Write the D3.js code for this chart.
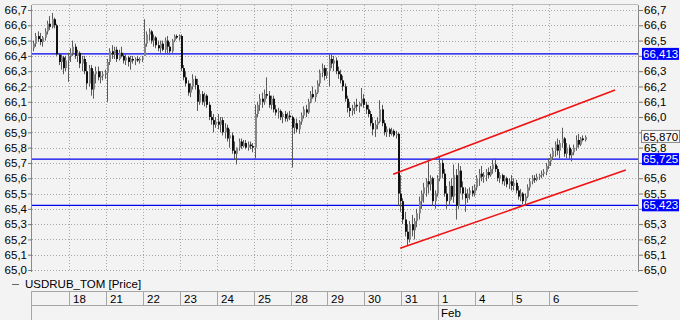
<!DOCTYPE html>
<html>
<head>
<meta charset="utf-8">
<script src="https://cdn.jsdelivr.net/npm/d3@7"></script>
<style>
  body { margin: 0; background: #f3f3f3; }
  svg { display: block; font-family: "Liberation Sans", Arial, sans-serif; }
</style>
</head>
<body>
<div id="chart"></div>
<script>
// USDRUB_TOM, hourly-ish candles, 16 per session (Jan 17 .. Feb 6)
const dayLabels = ["", "18", "21", "22", "23", "24", "25", "28", "29", "30", "31", "1", "4", "5", "6"];
const monthLabels = [{ day: 11, text: "Feb" }];
const barsPerDay = 16;

const opens = [
  66.45,66.48,66.53,66.51,66.49,66.52,66.56,66.61,66.59,66.64,66.60,66.41,66.36,66.39,66.32,66.37,
  66.40,66.42,66.46,66.40,66.42,66.35,66.38,66.30,66.22,66.32,66.18,66.28,66.30,66.26,66.27,66.28,
  66.29,66.36,66.43,66.41,66.44,66.38,66.42,66.40,66.37,66.39,66.36,66.38,66.37,66.38,66.37,66.38,
  66.40,66.48,66.54,66.56,66.50,66.52,66.47,66.45,66.48,66.44,66.50,66.46,66.43,66.50,66.53,66.52,
  66.53,66.32,66.26,66.22,66.16,66.20,66.25,66.21,66.10,66.15,66.10,66.14,66.08,66.00,65.98,65.95,
  65.97,65.95,65.98,65.90,65.93,65.86,65.88,65.78,65.76,65.80,65.84,65.81,65.83,65.80,65.82,65.81,
  65.80,66.02,66.08,66.12,66.10,66.15,66.14,66.08,66.12,66.05,66.03,66.04,66.00,66.02,65.99,66.01,
  66.00,65.93,65.96,65.92,65.97,66.01,66.05,66.03,66.10,66.15,66.13,66.16,66.22,66.29,66.32,66.27,
  66.30,66.38,66.35,66.37,66.30,66.28,66.24,66.20,66.12,66.06,66.04,66.06,66.08,66.07,66.09,66.12,
  66.08,66.05,66.02,65.96,65.92,65.95,65.97,66.05,65.96,65.90,65.92,65.89,65.91,65.88,65.89,65.50,
  65.45,65.33,65.25,65.20,65.30,65.26,65.32,65.37,65.45,65.50,65.54,65.58,65.56,65.60,65.45,65.50,
  65.60,65.70,65.63,65.50,65.45,65.55,65.48,65.62,65.42,65.65,65.54,65.50,65.47,65.50,65.52,65.50,
  65.54,65.60,65.63,65.61,65.62,65.64,65.62,65.66,65.69,65.66,65.60,65.62,65.58,65.60,65.56,65.58,
  65.55,65.57,65.52,65.48,65.50,65.45,65.48,65.54,65.58,65.60,65.59,65.61,65.62,65.63,65.64,65.68,
  65.71,65.74,65.78,65.82,65.78,65.83,65.86,65.76,65.80,65.75,65.77,65.80,65.85,65.82,65.86,65.85
];
const highs = [
  66.50,66.55,66.56,66.55,66.53,66.58,66.63,66.66,66.68,66.65,66.61,66.42,66.41,66.40,66.40,66.42,
  66.45,66.50,66.48,66.44,66.43,66.40,66.40,66.36,66.34,66.34,66.30,66.33,66.33,66.30,66.30,66.31,
  66.38,66.45,66.47,66.46,66.46,66.44,66.46,66.42,66.41,66.40,66.40,66.40,66.39,66.40,66.39,66.40,
  66.64,66.56,66.58,66.57,66.54,66.53,66.50,66.50,66.50,66.52,66.53,66.49,66.51,66.54,66.54,66.54,
  66.54,66.34,66.30,66.24,66.22,66.28,66.27,66.25,66.18,66.17,66.16,66.15,66.10,66.04,66.02,66.00,
  66.02,66.00,66.00,65.96,65.95,65.92,65.90,65.84,65.80,65.86,65.86,65.85,65.85,65.84,65.84,65.83,
  66.08,66.10,66.15,66.16,66.18,66.26,66.17,66.14,66.14,66.08,66.06,66.05,66.03,66.04,66.03,66.04,
  66.01,65.99,65.99,65.98,66.03,66.07,66.08,66.12,66.17,66.20,66.18,66.24,66.31,66.35,66.34,66.32,
  66.41,66.41,66.40,66.39,66.33,66.31,66.27,66.22,66.14,66.10,66.08,66.10,66.12,66.10,66.19,66.15,
  66.10,66.08,66.04,66.00,65.98,66.00,66.11,66.08,65.98,65.94,65.93,65.93,65.92,65.91,65.90,65.62,
  65.47,65.38,65.30,65.32,65.36,65.34,65.40,65.48,65.52,65.57,65.60,65.71,65.62,65.61,65.52,65.62,
  65.74,65.72,65.66,65.55,65.58,65.60,65.69,65.66,65.70,65.68,65.58,65.54,65.53,65.54,65.55,65.56,
  65.62,65.66,65.68,65.64,65.66,65.67,65.68,65.72,65.73,65.68,65.64,65.63,65.62,65.61,65.60,65.62,
  65.60,65.59,65.55,65.53,65.51,65.50,65.56,65.60,65.62,65.62,65.63,65.63,65.65,65.66,65.70,65.73,
  65.76,65.80,65.84,65.86,65.85,65.93,65.87,65.83,65.82,65.79,65.82,65.88,65.89,65.87,65.88,65.88
];
const lows = [
  66.43,66.46,66.49,66.47,66.46,66.50,66.54,66.57,66.58,66.58,66.40,66.34,66.31,66.28,66.30,66.23,
  66.36,66.40,66.38,66.36,66.32,66.30,66.28,66.18,66.20,66.14,66.12,66.22,66.24,66.22,66.24,66.25,
  66.10,66.34,66.38,66.38,66.36,66.37,66.39,66.35,66.34,66.33,66.31,66.35,66.34,66.36,66.35,66.36,
  66.40,66.46,66.50,66.48,66.46,66.45,66.43,66.42,66.43,66.42,66.41,66.41,66.42,66.49,66.51,66.50,
  66.30,66.24,66.20,66.14,66.13,66.18,66.18,66.04,66.08,66.08,66.07,66.06,65.98,65.95,65.90,65.93,
  65.92,65.90,65.88,65.86,65.84,65.80,65.76,65.72,65.69,65.78,65.79,65.80,65.79,65.78,65.79,65.77,
  65.73,66.00,66.04,66.06,66.08,66.12,66.06,66.05,66.03,66.01,65.99,65.98,65.96,65.97,65.97,65.98,
  65.67,65.89,65.90,65.89,65.95,65.99,66.00,66.02,66.09,66.12,66.10,66.15,66.20,66.26,66.24,66.25,
  66.20,66.32,66.30,66.28,66.25,66.22,66.17,66.10,66.03,66.00,66.01,66.02,66.04,66.03,66.07,66.06,
  66.02,66.00,65.94,65.88,65.87,65.92,65.96,65.94,65.88,65.87,65.87,65.88,65.87,65.86,65.42,65.38,
  65.30,65.22,65.16,65.18,65.22,65.20,65.28,65.33,65.40,65.44,65.48,65.50,65.52,65.42,65.40,65.48,
  65.58,65.60,65.48,65.40,65.42,65.46,65.44,65.33,65.40,65.50,65.46,65.38,65.44,65.46,65.48,65.48,
  65.52,65.55,65.58,65.57,65.58,65.60,65.61,65.63,65.64,65.58,65.57,65.56,65.55,65.54,65.53,65.52,
  65.52,65.50,65.46,65.45,65.43,65.42,65.47,65.52,65.56,65.57,65.58,65.59,65.60,65.61,65.62,65.66,
  65.68,65.72,65.74,65.75,65.73,65.80,65.74,65.73,65.72,65.71,65.75,65.78,65.80,65.81,65.84,65.84
];
const closes = [
  66.48,66.53,66.51,66.49,66.52,66.56,66.61,66.59,66.64,66.60,66.41,66.36,66.39,66.32,66.37,66.40,
  66.42,66.46,66.40,66.42,66.35,66.38,66.30,66.22,66.32,66.18,66.28,66.30,66.26,66.27,66.28,66.29,
  66.36,66.43,66.41,66.44,66.38,66.42,66.40,66.37,66.39,66.36,66.38,66.37,66.38,66.37,66.38,66.39,
  66.48,66.54,66.56,66.50,66.52,66.47,66.45,66.48,66.44,66.50,66.46,66.43,66.50,66.53,66.52,66.53,
  66.32,66.26,66.22,66.16,66.20,66.25,66.21,66.10,66.15,66.10,66.14,66.08,66.00,65.98,65.95,65.97,
  65.95,65.98,65.90,65.93,65.86,65.88,65.78,65.76,65.80,65.84,65.81,65.83,65.80,65.82,65.81,65.80,
  66.02,66.08,66.12,66.10,66.15,66.14,66.08,66.12,66.05,66.03,66.04,66.00,66.02,65.99,66.01,66.00,
  65.93,65.96,65.92,65.97,66.01,66.05,66.03,66.10,66.15,66.13,66.16,66.22,66.29,66.32,66.27,66.30,
  66.38,66.35,66.37,66.30,66.28,66.24,66.20,66.12,66.06,66.04,66.06,66.08,66.07,66.09,66.12,66.08,
  66.05,66.02,65.96,65.92,65.95,65.97,66.05,65.96,65.90,65.92,65.89,65.91,65.88,65.89,65.50,65.45,
  65.33,65.25,65.20,65.30,65.26,65.32,65.37,65.45,65.50,65.54,65.58,65.56,65.60,65.45,65.50,65.60,
  65.70,65.63,65.50,65.45,65.55,65.48,65.62,65.42,65.65,65.54,65.50,65.47,65.50,65.52,65.50,65.54,
  65.60,65.63,65.61,65.62,65.64,65.62,65.66,65.69,65.66,65.60,65.62,65.58,65.60,65.56,65.58,65.55,
  65.57,65.52,65.48,65.50,65.45,65.48,65.54,65.58,65.60,65.59,65.61,65.62,65.63,65.64,65.68,65.71,
  65.74,65.78,65.82,65.78,65.83,65.86,65.76,65.80,65.75,65.77,65.80,65.85,65.82,65.86,65.85,65.87
];

const yTicks = [65.0,65.1,65.2,65.3,65.4,65.5,65.6,65.7,65.8,65.9,66.0,66.1,66.2,66.3,66.4,66.5,66.6,66.7];
const levels = [66.413, 65.725, 65.423];
const lastPrice = 65.870;
// trend channel, x in session units
const channelUpper = [[9.78, 65.626], [15.79, 66.177]];
const channelLower = [[9.97, 65.142], [16.08, 65.654]];

const W = 680, H = 320;
const plotLeft = 32, plotRight = 638, plotTop = 5, plotBottom = 272;

const svg = d3.select("#chart").append("svg")
    .attr("width", W)
    .attr("height", H);

svg.append("rect").attr("width", W).attr("height", H).attr("fill", "#f3f3f3");

const x = d3.scaleLinear().domain([0, 16.41]).range([plotLeft, plotRight]);
const y = d3.scaleLinear().domain([65.0, 66.7]).range([270, 10]);
const fmt = v => d3.format(".1f")(v).replace(".", ",");
const fmt3 = v => d3.format(".3f")(v).replace(".", ",");

// grid
const grid = svg.append("g").attr("stroke", "#a8a8a8").attr("stroke-dasharray", "1,2");
grid.selectAll("line.h").data(yTicks).enter().append("line")
    .attr("x1", plotLeft).attr("x2", plotRight)
    .attr("y1", d => Math.round(y(d)) + 0.5).attr("y2", d => Math.round(y(d)) + 0.5);
grid.selectAll("line.v").data(d3.range(1, dayLabels.length)).enter().append("line")
    .attr("y1", plotTop).attr("y2", plotBottom)
    .attr("x1", d => Math.round(x(d)) + 0.5).attr("x2", d => Math.round(x(d)) + 0.5);

// frame
svg.append("line").attr("x1", plotLeft).attr("x2", plotRight).attr("y1", plotTop - 0.5).attr("y2", plotTop - 0.5).attr("stroke", "#bdbdbd");
svg.append("line").attr("x1", plotLeft - 0.5).attr("x2", plotLeft - 0.5).attr("y1", plotTop).attr("y2", plotBottom).attr("stroke", "#8a8a8a");
svg.append("line").attr("x1", plotRight + 0.5).attr("x2", plotRight + 0.5).attr("y1", plotTop).attr("y2", plotBottom).attr("stroke", "#8a8a8a");

// axes; right-hand tick labels that sit under a price tag are left out
const tagged = levels.concat([lastPrice]);
const yl = svg.append("g").attr("transform", `translate(${plotLeft},0)`)
    .call(d3.axisLeft(y).tickValues(yTicks).tickSize(4).tickPadding(1).tickFormat(fmt));
const yr = svg.append("g").attr("transform", `translate(${plotRight + 1},0)`)
    .call(d3.axisRight(y).tickValues(yTicks).tickSize(4).tickPadding(1)
        .tickFormat(v => tagged.some(p => Math.abs(y(p) - y(v)) < 8) ? "" : fmt(v)));
[yl, yr].forEach(g => {
    g.select(".domain").remove();
    g.selectAll(".tick line").attr("stroke", "#777");
    g.selectAll(".tick text").attr("fill", "#000").style("font-size", "11.5px");
});

// horizontal levels
svg.append("g").selectAll("line").data(levels).enter().append("line")
    .attr("x1", plotLeft).attr("x2", plotRight)
    .attr("y1", d => y(d)).attr("y2", d => y(d))
    .attr("stroke", "#0000ee").attr("stroke-width", 1.3);

// candles
const bars = closes.map((c, i) => ({
    t: Math.floor(i / barsPerDay) + (i % barsPerDay + 0.5) / barsPerDay,
    o: opens[i], h: highs[i], l: lows[i], c: c
}));
const cg = svg.append("g");
cg.selectAll("line").data(bars).enter().append("line")
    .attr("x1", d => Math.round(x(d.t)) + 0.5).attr("x2", d => Math.round(x(d.t)) + 0.5)
    .attr("y1", d => y(d.h)).attr("y2", d => y(d.l))
    .attr("stroke", "#5a5a5a");
cg.selectAll("rect").data(bars).enter().append("rect")
    .attr("x", d => Math.round(x(d.t)))
    .attr("width", 2)
    .attr("y", d => y(Math.max(d.o, d.c)))
    .attr("height", d => Math.max(1, Math.abs(y(d.o) - y(d.c))))
    .attr("fill", d => d.c >= d.o ? "#868686" : "#111");

// channel
const line = d3.line().x(d => x(d[0])).y(d => y(d[1]));
svg.append("g").selectAll("path").data([channelUpper, channelLower]).enter().append("path")
    .attr("d", line).attr("fill", "none").attr("stroke", "#f01010").attr("stroke-width", 1.5);

// price labels on right axis
const tags = svg.append("g");
levels.forEach(v => {
    tags.append("rect").attr("x", plotRight + 4).attr("y", y(v) - 6).attr("width", 37).attr("height", 12).attr("fill", "#0000ff");
    tags.append("text").attr("x", plotRight + 5).attr("y", y(v)).attr("dy", "0.35em")
        .style("font-size", "11.5px").attr("fill", "#fff").text(fmt3(v));
});
tags.append("rect").attr("x", plotRight + 3.5).attr("y", y(lastPrice) - 6.5).attr("width", 38).attr("height", 12)
    .attr("fill", "#f8f8f8").attr("stroke", "#888");
tags.append("text").attr("x", plotRight + 5).attr("y", y(lastPrice)).attr("dy", "0.35em")
    .style("font-size", "11.5px").attr("fill", "#000").text(fmt3(lastPrice));

// legend
svg.append("line").attr("x1", 12).attr("x2", 19).attr("y1", 284.5).attr("y2", 284.5).attr("stroke", "#666");
svg.append("text").attr("x", 25).attr("y", 284).attr("dy", "0.35em").style("font-size", "11.5px").text("USDRUB_TOM [Price]");

// time axis
const ax = svg.append("g").attr("stroke", "#a6a6a6");
ax.append("line").attr("x1", plotLeft).attr("x2", plotRight).attr("y1", 291.5).attr("y2", 291.5);
ax.append("line").attr("x1", plotLeft).attr("x2", plotRight).attr("y1", 305.5).attr("y2", 305.5);
ax.append("line").attr("x1", plotLeft - 0.5).attr("x2", plotLeft - 0.5).attr("y1", 291).attr("y2", H);
ax.selectAll("line.sep").data(d3.range(1, dayLabels.length)).enter().append("line")
    .attr("x1", d => Math.round(x(d)) + 0.5).attr("x2", d => Math.round(x(d)) + 0.5)
    .attr("y1", 291).attr("y2", d => monthLabels.some(m => m.day === d) ? H : 305);
svg.append("g").selectAll("text").data(dayLabels).enter().append("text")
    .attr("x", (d, i) => Math.round(x(i)) + 4).attr("y", 299).attr("dy", "0.35em")
    .style("font-size", "11.5px").text(d => d);
svg.append("g").selectAll("text").data(monthLabels).enter().append("text")
    .attr("x", d => Math.round(x(d.day)) + 3).attr("y", 313).attr("dy", "0.35em")
    .style("font-size", "11.5px").text(d => d.text);
</script>
</body>
</html>
